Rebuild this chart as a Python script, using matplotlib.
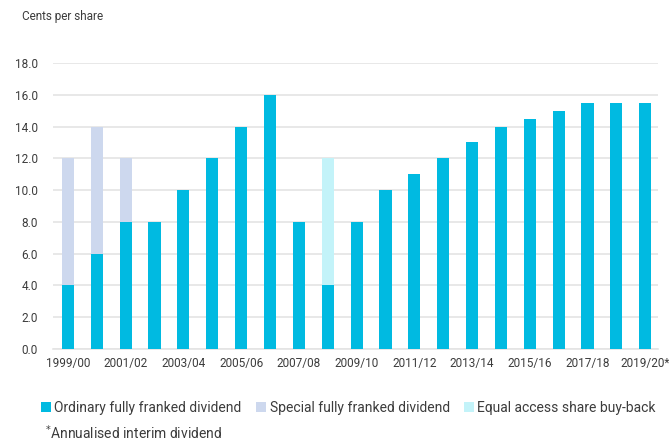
import matplotlib
matplotlib.use("Agg")
import matplotlib.pyplot as plt
import numpy as np

plt.rcParams['font.family'] = ['Roboto', 'DejaVu Sans']

years = ["1999/00", "2000/01", "2001/02", "2002/03", "2003/04", "2004/05", "2005/06",
         "2006/07", "2007/08", "2008/09", "2009/10", "2010/11", "2011/12", "2012/13",
         "2013/14", "2014/15", "2015/16", "2016/17", "2017/18", "2018/19", "2019/20*"]
ordinary = [4, 6, 8, 8, 10, 12, 14, 16, 8, 4, 8, 10, 11, 12, 13, 14, 14.5, 15, 15.5, 15.5, 15.5]
special = [8, 8, 4, 0, 0, 0, 0, 0, 0, 0, 0, 0, 0, 0, 0, 0, 0, 0, 0, 0, 0]
buyback = [0, 0, 0, 0, 0, 0, 0, 0, 0, 8, 0, 0, 0, 0, 0, 0, 0, 0, 0, 0, 0]

c_ord = "#00bae1"
c_spec = "#cdd8ee"
c_buy = "#c3f3f9"
txt = "#3c3c3c"

fig = plt.figure(figsize=(6.69, 4.41), dpi=100)
ax = fig.add_axes([0.079, 0.2086, 0.905, 0.6485])

x = np.arange(len(years))
w = 0.42
ax.bar(x, ordinary, w, color=c_ord, label="Ordinary fully franked dividend", zorder=3)
ax.bar(x, special, w, bottom=ordinary, color=c_spec, label="Special fully franked dividend", zorder=3)
ax.bar(x, buyback, w, bottom=ordinary, color=c_buy, label="Equal access share buy-back", zorder=3)

ax.set_ylim(0, 18)
ax.set_xlim(-0.52, 20.45)
ax.set_yticks(np.arange(0, 18.1, 2))
ax.set_yticklabels(["%.1f" % v for v in np.arange(0, 18.1, 2)])
ax.set_xticks(x[::2])
ax.set_xticklabels(years[::2])
ax.grid(axis='y', color="#e4e4e4", linewidth=1.2, zorder=0)
for s in ['top', 'right', 'left']:
    ax.spines[s].set_visible(False)
ax.spines['bottom'].set_color("#e4e4e4")
ax.spines['bottom'].set_linewidth(1.2)
ax.tick_params(axis='both', length=0, colors=txt, labelsize=8.5)
ax.tick_params(axis='y', pad=11)
ax.tick_params(axis='x', pad=6)

fig.text(0.033, 0.962, "Cents per share", fontsize=8.5, color=txt, va='center')

leg = fig.legend(loc='center left', bbox_to_anchor=(0.042, 0.075), ncol=3, frameon=False,
                 fontsize=10, handlelength=0.75, handleheight=0.75, handletextpad=0.25,
                 columnspacing=1.0, labelcolor=txt)
fig.text(0.067, 0.018, r"$^{*}$Annualised interim dividend", fontsize=10, color=txt, va='center')

fig.savefig("out.png", dpi=100)
